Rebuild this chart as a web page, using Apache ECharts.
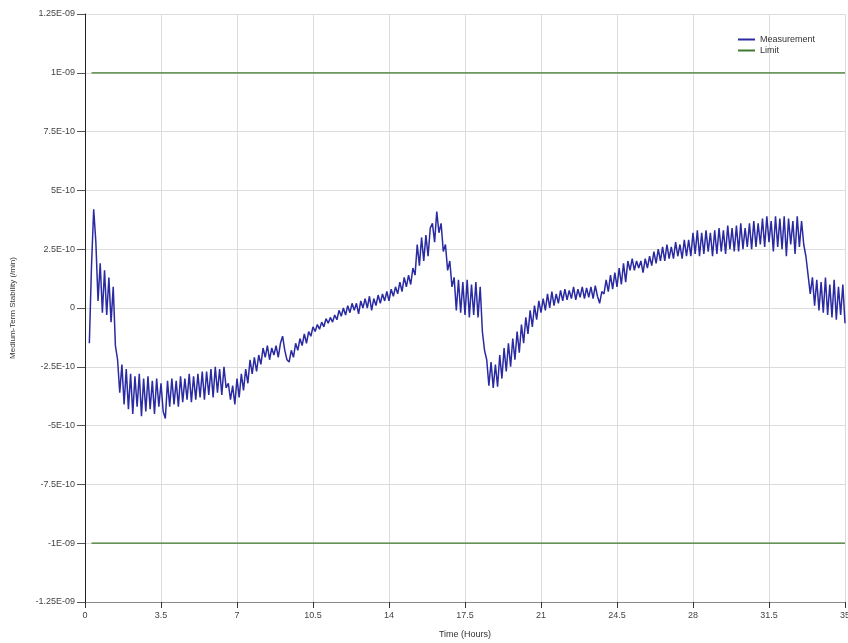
<!DOCTYPE html>
<html>
<head>
<meta charset="utf-8">
<script src="https://cdn.jsdelivr.net/npm/echarts@6/dist/echarts.min.js"></script>
<style>html,body{margin:0;padding:0;background:#fff;}#c{width:848px;height:643px;}</style>
</head>
<body>
<div id="c"></div>
<script>
// Sampling grid of the measurement (hours)
const T_START = 0.2;
const T_STEP = 0.1;
const measurement = [
  -1.5, 1.8, 4.2, 2.8, 0.3, 1.9, -0.2, 1.6,
  -0.3, 1.3, -0.6, 0.9, -1.6, -2.2, -3.6, -2.4, -4.1, -2.6,
  -4.3, -2.8, -4.5, -2.9, -4.2, -2.8, -4.6, -3.0, -4.4, -2.9,
  -4.3, -3.1, -4.5, -3.0, -4.2, -3.2, -4.4, -4.7, -3.1, -4.2,
  -3.0, -4.1, -3.1, -4.2, -2.9, -4.0, -3.0, -3.9, -2.8, -4.0,
  -2.9, -3.9, -2.8, -3.8, -2.7, -3.9, -2.7, -3.7, -2.6, -3.8,
  -2.5, -3.6, -2.6, -3.7, -2.5, -3.4, -3.2, -3.9, -3.3, -4.1,
  -3.0, -3.8, -2.8, -3.5, -2.6, -3.2, -2.2, -2.8, -2.1, -2.7,
  -2.0, -2.4, -1.7, -2.1, -1.6, -2.2, -1.7, -2.0, -1.6, -2.1,
  -1.5, -1.2, -1.8, -2.2, -2.3, -1.8, -2.1, -1.5, -1.8, -1.3,
  -1.6, -1.1, -1.5, -1.0, -1.2, -0.8, -1.0, -0.7, -0.9, -0.6,
  -0.8, -0.45, -0.65, -0.4, -0.6, -0.3, -0.5, -0.1, -0.35, 0.0,
  -0.3, 0.1, -0.2, 0.2, -0.1, 0.2, -0.25, 0.3, 0.0, 0.4,
  0.0, 0.5, -0.1, 0.4, 0.1, 0.55, 0.2, 0.6, 0.3, 0.7,
  0.3, 0.8, 0.5, 0.9, 0.6, 1.1, 0.7, 1.3, 0.9, 1.4,
  1.0, 1.7, 1.4, 2.7, 1.8, 3.0, 2.0, 3.1, 2.2, 3.4,
  3.6, 2.8, 4.1, 3.2, 3.6, 2.4, 2.7, 1.6, 2.0, 0.9,
  1.3, -0.1, 1.2, -0.2, 1.1, -0.3, 1.2, -0.4, 1.0, -0.3,
  1.1, -0.4, 0.9, -1.0, -1.8, -2.2, -3.3, -2.3, -3.4, -2.4,
  -3.35, -2.0, -3.0, -1.7, -2.7, -1.5, -2.5, -1.3, -2.2, -1.0,
  -1.9, -0.7, -1.5, -0.4, -1.1, -0.1, -0.8, 0.1, -0.5, 0.3,
  -0.2, 0.4, -0.1, 0.6, 0.0, 0.7, 0.1, 0.6, 0.2, 0.75,
  0.3, 0.8, 0.35, 0.75, 0.4, 0.9, 0.35, 0.8, 0.45, 0.9,
  0.4, 0.85, 0.45, 0.9, 0.4, 0.95, 0.5, 0.2, 0.7, 0.6,
  1.2, 0.7, 1.4, 0.8, 1.5, 0.9, 1.7, 1.0, 1.9, 1.1,
  2.0, 1.6, 2.1, 1.6, 2.0, 1.7, 2.0, 1.5, 2.1, 1.7,
  2.2, 1.8, 2.4, 1.9, 2.5, 2.0, 2.6, 2.0, 2.7, 2.1,
  2.6, 2.1, 2.8, 2.2, 2.7, 2.1, 2.9, 2.2, 2.9, 2.2,
  3.2, 2.3, 3.3, 2.2, 3.2, 2.3, 3.3, 2.4, 3.2, 2.2,
  3.3, 2.3, 3.4, 2.4, 3.3, 2.3, 3.5, 2.5, 3.4, 2.4,
  3.5, 2.4, 3.6, 2.5, 3.4, 2.6, 3.6, 2.5, 3.7, 2.6,
  3.6, 2.7, 3.8, 2.6, 3.9, 2.8, 3.7, 2.4, 3.9, 2.6,
  3.8, 2.5, 3.9, 2.2, 3.8, 2.7, 3.7, 2.3, 3.9, 2.6,
  3.7, 2.7, 2.2, 1.4, 0.6, 1.3, 0.1, 1.2, -0.1, 1.1,
  -0.2, 1.3, -0.3, 1.0, -0.4, 1.2, -0.5, 0.9, -0.3, 1.0,
  -0.65
];
const MEAS_UNIT = 1e-10;
// Limit lines
const limitTimes = [0.3, 35];
const limitUpper = [1e-9, 1e-9];
const limitLower = [-1e-9, -1e-9];
// Axes
const xTickLabels = ['0','3.5','7','10.5','14','17.5','21','24.5','28','31.5','35'];
const yTickLabels = ['-1.25E-09','-1E-09','-7.5E-10','-5E-10','-2.5E-10','0','2.5E-10','5E-10','7.5E-10','1E-09','1.25E-09'];
const Y_MIN = -1.25e-9, Y_MAX = 1.25e-9, Y_INT = 2.5e-10;
const X_MIN = 0, X_MAX = 35, X_INT = 3.5;

const measData = measurement.map((v, i) => [+(T_START + i * T_STEP).toFixed(2), v * MEAS_UNIT]);
const upData = limitTimes.map((t, i) => [t, limitUpper[i]]);
const loData = limitTimes.map((t, i) => [t, limitLower[i]]);

const FONT = '"Liberation Sans", Arial, sans-serif';
const BLUE = '#2a2aa2';
const GREEN = '#3f7a2c';
const chart = echarts.init(document.getElementById('c'), null, {renderer: 'canvas'});
chart.setOption({
  animation: false,
  backgroundColor: '#fff',
  textStyle: {fontFamily: FONT},
  grid: {left: 85, right: 3, top: 14, bottom: 41, containLabel: false, outerBoundsMode: 'none'},
  legend: {
    show: true, orient: 'vertical', right: 28, top: 30,
    itemWidth: 17, itemHeight: 2, itemGap: 2,
    textStyle: {fontSize: 9, color: '#333', fontFamily: FONT},
    data: [
      {name: 'Measurement', icon: 'rect', itemStyle: {color: BLUE}},
      {name: 'Limit', icon: 'rect', itemStyle: {color: GREEN}}
    ]
  },
  xAxis: {
    type: 'value', min: X_MIN, max: X_MAX, interval: X_INT,
    name: 'Time (Hours)', nameLocation: 'middle', nameGap: 28,
    nameTextStyle: {fontSize: 9, color: '#333', fontFamily: FONT},
    axisLine: {show: true, onZero: false, lineStyle: {color: '#888', width: 1}},
    axisTick: {show: true, length: 6, lineStyle: {color: '#333'}},
    axisLabel: {fontSize: 9, color: '#444', margin: 9, fontFamily: FONT,
      formatter: v => xTickLabels[Math.round((v - X_MIN) / X_INT)] ?? ''},
    splitLine: {show: true, lineStyle: {color: '#dcdcdc', width: 1}}
  },
  yAxis: {
    type: 'value', min: Y_MIN, max: Y_MAX, interval: Y_INT,
    name: 'Medium-Term Stability (/min)', nameLocation: 'middle', nameGap: 68,
    nameTextStyle: {fontSize: 8, color: '#333', fontFamily: FONT},
    axisLine: {show: true, onZero: false, lineStyle: {color: '#222', width: 1}},
    axisTick: {show: true, length: 8, lineStyle: {color: '#555'}},
    axisLabel: {fontSize: 9, color: '#444', margin: 10, fontFamily: FONT,
      formatter: v => yTickLabels[Math.round((v - Y_MIN) / Y_INT)] ?? ''},
    splitLine: {show: true, lineStyle: {color: '#dcdcdc', width: 1}}
  },
  series: [
    {name: 'Measurement', type: 'line', data: measData, showSymbol: false, symbol: 'none',
      lineStyle: {color: BLUE, width: 1.5}, itemStyle: {color: BLUE}, z: 3},
    {name: 'Limit', type: 'line', data: upData, showSymbol: false, symbol: 'none',
      lineStyle: {color: GREEN, width: 1.2}, itemStyle: {color: GREEN}, z: 2},
    {name: 'Limit', type: 'line', data: loData, showSymbol: false, symbol: 'none',
      lineStyle: {color: GREEN, width: 1.2}, itemStyle: {color: GREEN}, z: 2}
  ]
});
</script>
</body>
</html>
